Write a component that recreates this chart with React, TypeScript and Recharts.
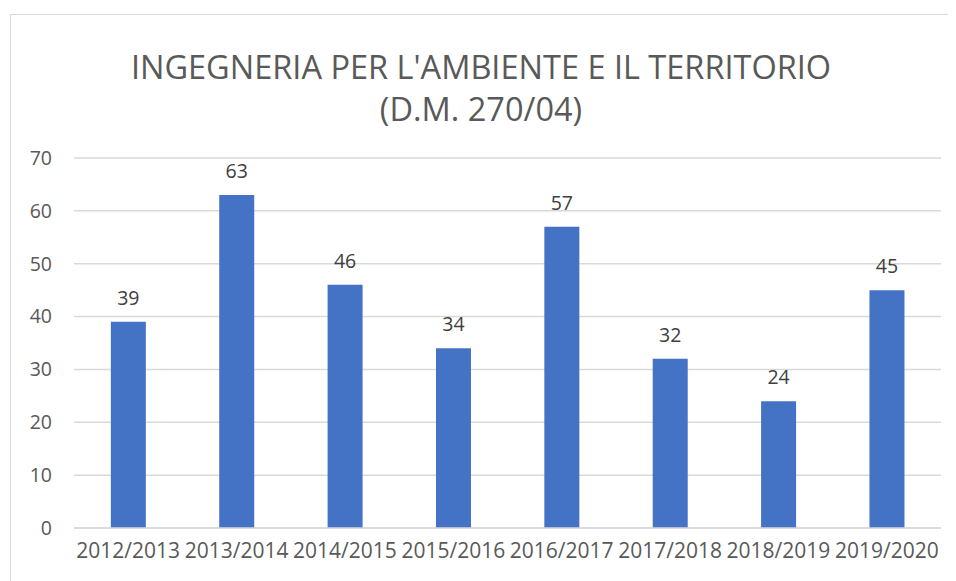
import { BarChart, Bar, XAxis, YAxis, CartesianGrid, LabelList } from 'recharts'

const years = [
  '2012/2013',
  '2013/2014',
  '2014/2015',
  '2015/2016',
  '2016/2017',
  '2017/2018',
  '2018/2019',
  '2019/2020',
]
const students = [39, 63, 46, 34, 57, 32, 24, 45]
const yTicks = [0, 10, 20, 30, 40, 50, 60, 70]

const titleLines = ["INGEGNERIA PER L'AMBIENTE E IL TERRITORIO", '(D.M. 270/04)']

const FONT = '"Open Sans", "Noto Sans", sans-serif'

export default function App() {
  const data = years.map((year, i) => ({ year, value: students[i] }))

  return (
    <div
      style={{
        position: 'relative',
        marginLeft: 2,
        marginTop: 6,
        width: 940,
        height: 580,
        border: '1px solid #d9d9d9',
        background: '#fff',
        fontFamily: FONT,
        overflow: 'hidden',
      }}
    >
      <div
        style={{
          position: 'absolute',
          left: 0,
          top: 31,
          width: 940,
          textAlign: 'center',
          color: '#595959',
          fontSize: 32.5,
          lineHeight: '42px',
        }}
      >
        {titleLines.map((t) => (
          <div key={t}>{t}</div>
        ))}
      </div>
      <BarChart
        width={940}
        height={580}
        data={data}
        margin={{ top: 143, right: 10, bottom: 37, left: 0 }}
        barCategoryGap="34%"
      >
        <CartesianGrid vertical={false} stroke="#d9d9d9" strokeWidth={1.5} />
        <XAxis
          dataKey="year"
          axisLine={{ stroke: '#d9d9d9', strokeWidth: 1.5 }}
          tickLine={false}
          tickSize={6}
          tickMargin={9}
          height={30}
          interval={0}
          tick={{ fill: '#595959', fontSize: 21, fontFamily: FONT }}
        />
        <YAxis
          width={63}
          domain={[0, 70]}
          ticks={yTicks}
          axisLine={false}
          tickLine={false}
          tickSize={6}
          tickMargin={16}
          tick={{ fill: '#595959', fontSize: 19.5, fontFamily: FONT }}
        />
        <Bar dataKey="value" fill="#4472C4" isAnimationActive={false}>
          <LabelList
            dataKey="value"
            position="top"
            offset={17}
            fill="#404040"
            fontSize={19.5}
            fontFamily={FONT}
          />
        </Bar>
      </BarChart>
    </div>
  )
}
